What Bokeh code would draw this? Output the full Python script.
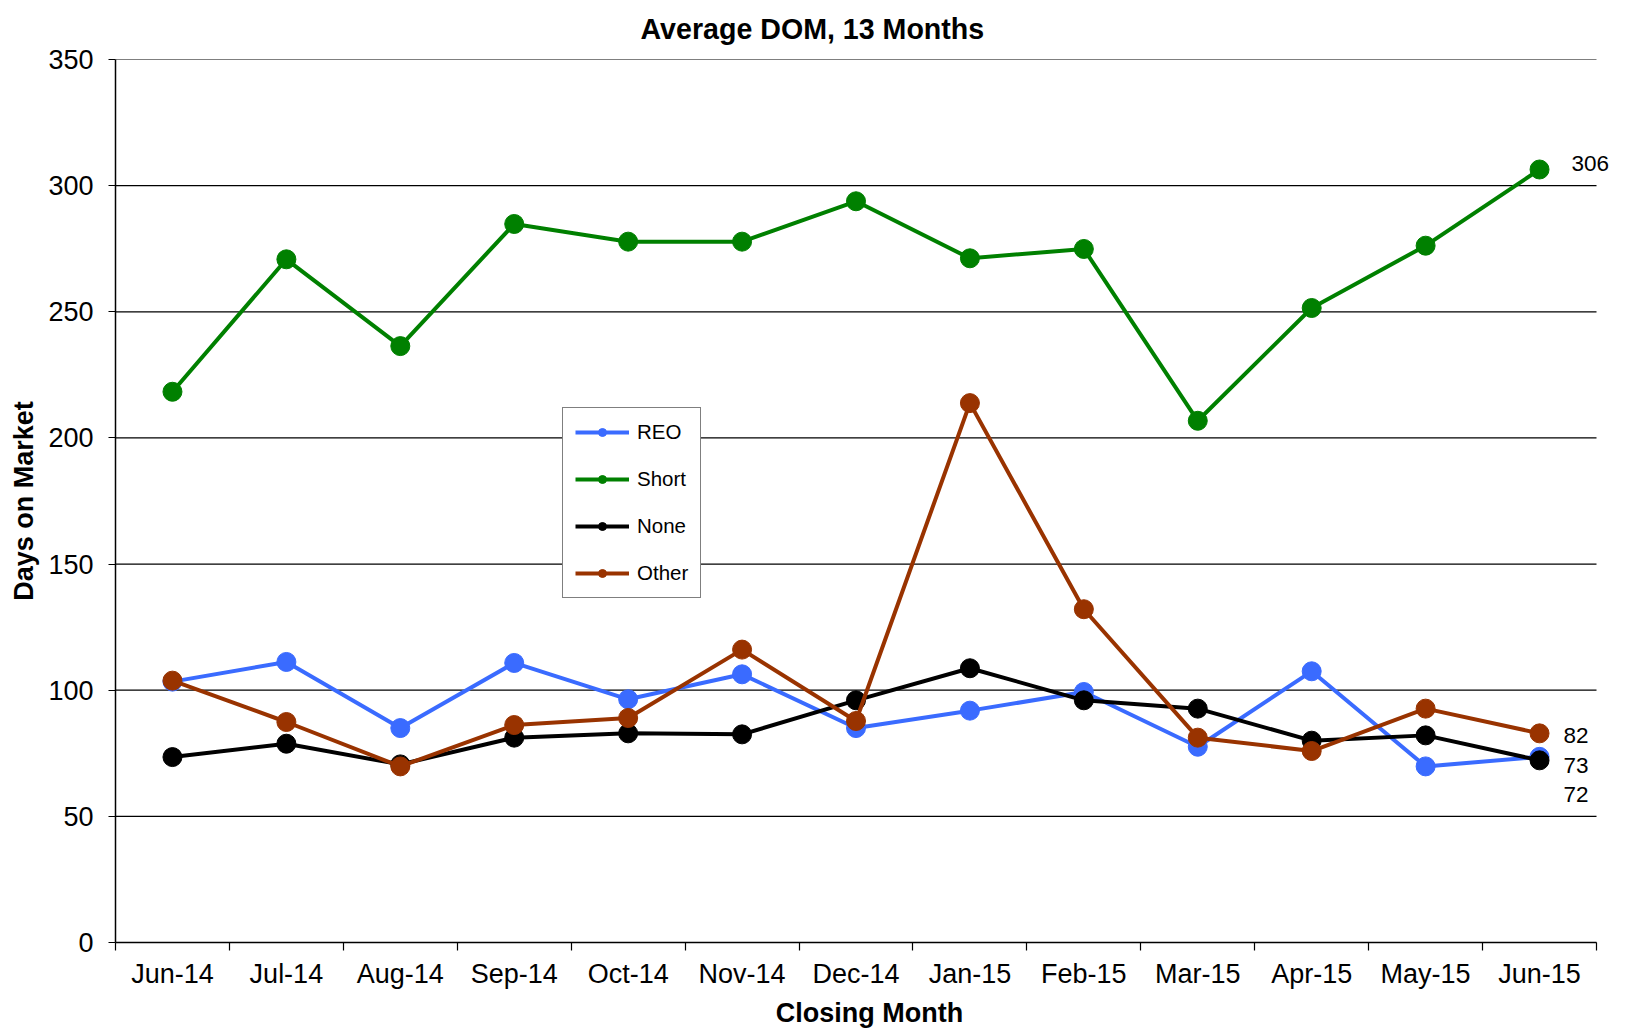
from bokeh.plotting import figure
from bokeh.models import (ColumnDataSource, FixedTicker, Range1d, Legend, LegendItem,
                          LabelSet, Title)
from bokeh.core.properties import value
from bokeh.embed import file_html
from bokeh.resources import INLINE

months = ["Jun-14", "Jul-14", "Aug-14", "Sep-14", "Oct-14", "Nov-14", "Dec-14",
          "Jan-15", "Feb-15", "Mar-15", "Apr-15", "May-15", "Jun-15"]
reo = [103.4, 111.2, 85.0, 110.8, 96.4, 106.3, 85.0, 91.9, 99.3, 77.6, 107.5, 69.8, 73.6]
short = [218.3, 270.8, 236.4, 284.8, 277.8, 277.8, 293.8, 271.2, 274.9, 206.8, 251.5, 276.2, 306.4]
none_ = [73.5, 78.8, 70.6, 81.2, 82.9, 82.5, 96.0, 108.7, 96.0, 92.7, 80.0, 82.1, 72.2]
other = [103.8, 87.4, 69.8, 86.2, 89.0, 116.1, 87.8, 213.8, 132.1, 81.2, 75.9, 92.7, 82.9]
end_labels = ["306", "82", "73", "72"]
y_ticks = [0, 50, 100, 150, 200, 250, 300, 350]

FONT = "Liberation Sans"
series = [("REO", reo, "#3A6BFF"), ("Short", short, "#008000"),
          ("None", none_, "#000000"), ("Other", other, "#993300")]

W, H = 1627, 1030
FL, FR, FT, FB = 115, 1596, 59, 944   # frame of the category area
n = len(months)
xs = list(range(n))
px_per_cat = (FR - FL) / n
x_end = (n - 0.5) + (W - 4 - FR) / px_per_cat

p = figure(width=W, height=H, output_backend="svg", toolbar_location=None,
           x_range=Range1d(-0.5, x_end), y_range=Range1d(0, 350),
           min_border_left=FL, min_border_right=4, min_border_top=0,
           min_border_bottom=H - FB)
p.outline_line_color = None
p.background_fill_color = "white"

p.title = Title(text="Average DOM, 13 Months", align="left", offset=525, standoff=25,
                vertical_align="top",
                text_font=FONT, text_font_size="28.6px", text_font_style="bold",
                text_color="black")

# horizontal grid lines across the category area
p.segment(x0=[-0.5] * len(y_ticks), x1=[n - 0.5] * len(y_ticks), y0=y_ticks, y1=y_ticks,
          line_color="black", line_width=1.2)

legend_items = []
nan = float("nan")
for name, vals, color in series:
    src = ColumnDataSource(dict(x=xs, y=vals))
    p.line("x", "y", source=src, line_color=color, line_width=4)
    p.scatter("x", "y", source=src, size=19, fill_color=color, line_color=color)
    lsrc = ColumnDataSource(dict(x=[nan], y=[nan]))
    lr = p.line("x", "y", source=lsrc, line_color=color, line_width=4)
    lc = p.scatter("x", "y", source=lsrc, size=9, fill_color=color, line_color=color)
    legend_items.append(LegendItem(label=name, renderers=[lr, lc]))

last = n - 1
lab_src = ColumnDataSource(dict(
    x=[last] * 4,
    y=[short[-1], other[-1], reo[-1], none_[-1]],
    text=end_labels,
    xo=[32, 24, 24, 24],
    yo=[6, -2, -9, -34],
))
p.add_layout(LabelSet(x="x", y="y", text="text", source=lab_src, x_offset="xo", y_offset="yo",
                      text_font=value(FONT), text_font_size=value("22.5px"), text_color="black",
                      text_baseline="middle", text_align="left"))

legend = Legend(items=legend_items, location=(447, 344), orientation="vertical")
legend.label_text_font = FONT
legend.label_text_font_size = "20.5px"
legend.label_text_color = "black"
legend.glyph_width = 54
legend.glyph_height = 20
legend.label_height = 20
legend.spacing = 23
legend.padding = 12
legend.margin = 0
legend.label_standoff = 8
legend.border_line_color = "black"
legend.border_line_width = 1.2
legend.background_fill_alpha = 1
p.add_layout(legend, "center")

p.xaxis.bounds = (-0.5, n - 0.5)
p.xaxis.ticker = FixedTicker(ticks=xs, minor_ticks=[i - 0.5 for i in range(n + 1)])
p.xaxis.major_label_overrides = {i: m for i, m in enumerate(months)}
p.xaxis.major_tick_line_color = None
p.xaxis.minor_tick_line_color = "black"
p.xaxis.minor_tick_out = 8
p.xaxis.minor_tick_in = 0
p.xaxis.minor_tick_line_width = 1.2
p.xaxis.major_label_standoff = 8
p.xaxis.axis_label = "Closing Month"
p.xaxis.axis_label_standoff = 6

p.yaxis.ticker = FixedTicker(ticks=y_ticks)
p.yaxis.minor_tick_line_color = None
p.yaxis.major_tick_out = 7
p.yaxis.major_tick_in = 0
p.yaxis.major_label_standoff = 15
p.yaxis.axis_label = "Days on Market"
p.yaxis.axis_label_standoff = 6

for ax in (p.xaxis, p.yaxis):
    ax.axis_line_color = "black"
    ax.axis_line_width = 1.5
    ax.major_tick_line_width = 1.2
    ax.major_label_text_font = FONT
    ax.major_label_text_font_size = "27px"
    ax.major_label_text_color = "black"
    ax.axis_label_text_font = FONT
    ax.axis_label_text_font_size = "27px"
    ax.axis_label_text_font_style = "bold"
    ax.axis_label_text_color = "black"

p.xgrid.grid_line_color = None
p.ygrid.grid_line_color = None

open("out.html", "w").write(file_html(p, INLINE))
